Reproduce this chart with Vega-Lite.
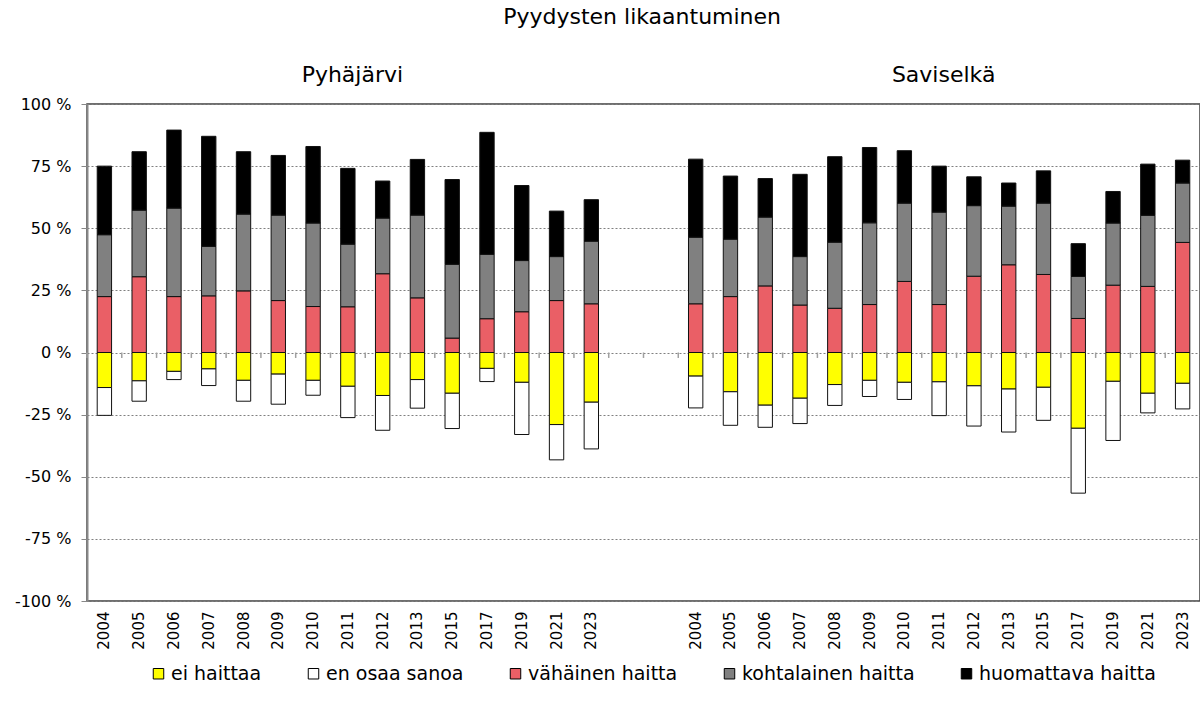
{
  "$schema": "https://vega.github.io/schema/vega-lite/v6.json",
  "width": 1113,
  "height": 497,
  "autosize": {"type": "none"},
  "padding": {"left": 87, "top": 104, "right": 0, "bottom": 114},
  "background": "white",
  "config": {
    "font": "DejaVu Sans",
    "view": {"stroke": "#404040", "strokeWidth": 1.5}
  },
  "layer": [
    {
      "data": {
        "values": [
          {"x": "P2004", "ei haittaa": -14.1, "en osaa sanoa": -11.2, "vähäinen haitta": 22.5, "kohtalainen haitta": 24.9, "huomattava haitta": 27.6},
          {"x": "P2005", "ei haittaa": -11.4, "en osaa sanoa": -8.2, "vähäinen haitta": 30.5, "kohtalainen haitta": 26.8, "huomattava haitta": 23.5},
          {"x": "P2006", "ei haittaa": -7.6, "en osaa sanoa": -3.3, "vähäinen haitta": 22.5, "kohtalainen haitta": 35.6, "huomattava haitta": 31.4},
          {"x": "P2007", "ei haittaa": -6.6, "en osaa sanoa": -6.7, "vähäinen haitta": 22.8, "kohtalainen haitta": 19.9, "huomattava haitta": 44.3},
          {"x": "P2008", "ei haittaa": -11.2, "en osaa sanoa": -8.4, "vähäinen haitta": 24.8, "kohtalainen haitta": 30.9, "huomattava haitta": 25.1},
          {"x": "P2009", "ei haittaa": -8.7, "en osaa sanoa": -12.1, "vähäinen haitta": 20.9, "kohtalainen haitta": 34.4, "huomattava haitta": 24.0},
          {"x": "P2010", "ei haittaa": -11.2, "en osaa sanoa": -6.0, "vähäinen haitta": 18.5, "kohtalainen haitta": 33.6, "huomattava haitta": 30.8},
          {"x": "P2011", "ei haittaa": -13.6, "en osaa sanoa": -12.6, "vähäinen haitta": 18.4, "kohtalainen haitta": 25.2, "huomattava haitta": 30.5},
          {"x": "P2012", "ei haittaa": -17.3, "en osaa sanoa": -14.0, "vähäinen haitta": 31.7, "kohtalainen haitta": 22.4, "huomattava haitta": 14.9},
          {"x": "P2013", "ei haittaa": -10.9, "en osaa sanoa": -11.5, "vähäinen haitta": 22.0, "kohtalainen haitta": 33.3, "huomattava haitta": 22.4},
          {"x": "P2015", "ei haittaa": -16.4, "en osaa sanoa": -14.2, "vähäinen haitta": 5.8, "kohtalainen haitta": 29.7, "huomattava haitta": 34.1},
          {"x": "P2017", "ei haittaa": -6.4, "en osaa sanoa": -5.3, "vähäinen haitta": 13.6, "kohtalainen haitta": 25.9, "huomattava haitta": 49.1},
          {"x": "P2019", "ei haittaa": -12.0, "en osaa sanoa": -21.0, "vähäinen haitta": 16.4, "kohtalainen haitta": 20.6, "huomattava haitta": 30.2},
          {"x": "P2021", "ei haittaa": -29.0, "en osaa sanoa": -14.2, "vähäinen haitta": 20.9, "kohtalainen haitta": 17.7, "huomattava haitta": 18.3},
          {"x": "P2023", "ei haittaa": -20.0, "en osaa sanoa": -18.8, "vähäinen haitta": 19.6, "kohtalainen haitta": 25.2, "huomattava haitta": 16.7},
          {"x": "S2004", "ei haittaa": -9.5, "en osaa sanoa": -12.8, "vähäinen haitta": 19.6, "kohtalainen haitta": 26.8, "huomattava haitta": 31.4},
          {"x": "S2005", "ei haittaa": -15.8, "en osaa sanoa": -13.5, "vähäinen haitta": 22.5, "kohtalainen haitta": 23.1, "huomattava haitta": 25.4},
          {"x": "S2006", "ei haittaa": -21.2, "en osaa sanoa": -8.9, "vähäinen haitta": 26.8, "kohtalainen haitta": 27.7, "huomattava haitta": 15.5},
          {"x": "S2007", "ei haittaa": -18.4, "en osaa sanoa": -10.2, "vähäinen haitta": 19.1, "kohtalainen haitta": 19.5, "huomattava haitta": 33.1},
          {"x": "S2008", "ei haittaa": -12.9, "en osaa sanoa": -8.4, "vähäinen haitta": 17.8, "kohtalainen haitta": 26.6, "huomattava haitta": 34.4},
          {"x": "S2009", "ei haittaa": -11.2, "en osaa sanoa": -6.5, "vähäinen haitta": 19.3, "kohtalainen haitta": 32.9, "huomattava haitta": 30.3},
          {"x": "S2010", "ei haittaa": -12.0, "en osaa sanoa": -6.9, "vähäinen haitta": 28.6, "kohtalainen haitta": 31.5, "huomattava haitta": 21.1},
          {"x": "S2011", "ei haittaa": -11.8, "en osaa sanoa": -13.6, "vähäinen haitta": 19.3, "kohtalainen haitta": 37.2, "huomattava haitta": 18.5},
          {"x": "S2012", "ei haittaa": -13.4, "en osaa sanoa": -16.2, "vähäinen haitta": 30.7, "kohtalainen haitta": 28.4, "huomattava haitta": 11.6},
          {"x": "S2013", "ei haittaa": -14.7, "en osaa sanoa": -17.3, "vähäinen haitta": 35.3, "kohtalainen haitta": 23.6, "huomattava haitta": 9.3},
          {"x": "S2015", "ei haittaa": -14.0, "en osaa sanoa": -13.3, "vähäinen haitta": 31.4, "kohtalainen haitta": 28.7, "huomattava haitta": 13.0},
          {"x": "S2017", "ei haittaa": -30.5, "en osaa sanoa": -26.1, "vähäinen haitta": 13.7, "kohtalainen haitta": 16.9, "huomattava haitta": 13.2},
          {"x": "S2019", "ei haittaa": -11.6, "en osaa sanoa": -23.8, "vähäinen haitta": 27.1, "kohtalainen haitta": 25.0, "huomattava haitta": 12.7},
          {"x": "S2021", "ei haittaa": -16.4, "en osaa sanoa": -7.9, "vähäinen haitta": 26.6, "kohtalainen haitta": 28.6, "huomattava haitta": 20.6},
          {"x": "S2023", "ei haittaa": -12.4, "en osaa sanoa": -10.3, "vähäinen haitta": 44.3, "kohtalainen haitta": 23.9, "huomattava haitta": 9.2}
        ]
      },
      "transform": [
        {"fold": ["ei haittaa", "en osaa sanoa", "vähäinen haitta", "kohtalainen haitta", "huomattava haitta"], "as": ["c", "v"]},
        {
          "lookup": "c",
          "from": {
            "data": {"values": [
              {"c": "ei haittaa", "o": 1},
              {"c": "en osaa sanoa", "o": 2},
              {"c": "vähäinen haitta", "o": 3},
              {"c": "kohtalainen haitta", "o": 4},
              {"c": "huomattava haitta", "o": 5}
            ]},
            "key": "c",
            "fields": ["o"]
          }
        }
      ],
      "mark": {"type": "bar", "stroke": "#111111", "strokeWidth": 1},
      "encoding": {
        "x": {
          "field": "x",
          "type": "nominal",
          "sort": null,
          "scale": {
            "domain": ["P2004", "P2005", "P2006", "P2007", "P2008", "P2009", "P2010", "P2011", "P2012", "P2013", "P2015", "P2017", "P2019", "P2021", "P2023", "g1", "g2", "S2004", "S2005", "S2006", "S2007", "S2008", "S2009", "S2010", "S2011", "S2012", "S2013", "S2015", "S2017", "S2019", "S2021", "S2023"],
            "paddingInner": 0.587,
            "paddingOuter": 0.2935
          },
          "axis": {
            "title": null,
            "orient": "bottom",
            "domain": false,
            "ticks": false,
            "labelAngle": -90,
            "labelPadding": 10,
            "labelFontSize": 15,
            "labelColor": "#000000",
            "labelOverlap": false,
            "labelExpr": "indexof(datum.value, 'g') == 0 ? '' : substring(datum.value, 1)"
          }
        },
        "y": {
          "field": "v",
          "type": "quantitative",
          "stack": "zero",
          "scale": {"domain": [-100, 100], "nice": false},
          "axis": {
            "title": null,
            "values": [-100, -75, -50, -25, 0, 25, 50, 75, 100],
            "labelExpr": "datum.value + ' %'",
            "labelFontSize": 16,
            "labelColor": "#000000",
            "labelPadding": 10,
            "domainColor": "#888888",
            "domainWidth": 2,
            "tickColor": "#888888",
            "tickSize": 6,
            "grid": true,
            "gridColor": "#808080",
            "gridDash": [2, 2],
            "gridWidth": 1
          }
        },
        "order": {"field": "o", "type": "quantitative", "sort": "ascending"},
        "color": {
          "field": "c",
          "type": "nominal",
          "sort": ["ei haittaa", "en osaa sanoa", "vähäinen haitta", "kohtalainen haitta", "huomattava haitta"],
          "scale": {
            "domain": ["ei haittaa", "en osaa sanoa", "vähäinen haitta", "kohtalainen haitta", "huomattava haitta"],
            "range": ["#FFFF00", "#FFFFFF", "#EA5F66", "#808080", "#000000"]
          },
          "legend": {
            "title": null,
            "orient": "none",
            "direction": "horizontal",
            "legendX": 62,
            "legendY": 560,
            "padding": 0,
            "symbolType": "square",
            "symbolSize": 110,
            "symbolStrokeColor": "#000000",
            "symbolStrokeWidth": 1,
            "labelFontSize": 19,
            "labelColor": "#000000",
            "labelOffset": 3,
            "labelLimit": 400,
            "columnPadding": 42
          }
        }
      }
    },
    {
      "data": {"values": [
        {"x": "P2004"}, {"x": "P2005"}, {"x": "P2006"}, {"x": "P2007"}, {"x": "P2008"}, {"x": "P2009"}, {"x": "P2010"}, {"x": "P2011"},
        {"x": "P2012"}, {"x": "P2013"}, {"x": "P2015"}, {"x": "P2017"}, {"x": "P2019"}, {"x": "P2021"}, {"x": "P2023"}, {"x": "g1"},
        {"x": "g2"}, {"x": "S2004"}, {"x": "S2005"}, {"x": "S2006"}, {"x": "S2007"}, {"x": "S2008"}, {"x": "S2009"}, {"x": "S2010"},
        {"x": "S2011"}, {"x": "S2012"}, {"x": "S2013"}, {"x": "S2015"}, {"x": "S2017"}, {"x": "S2019"}, {"x": "S2021"}, {"x": "S2023"}
      ]},
      "mark": {"type": "rule", "color": "#a0a0a0", "strokeWidth": 1.5},
      "encoding": {
        "x": {"field": "x", "type": "nominal", "bandPosition": -0.7107},
        "y": {"datum": 0},
        "y2": {"datum": -2.2}
      }
    },
    {
      "mark": {"type": "rule", "color": "#a0a0a0", "strokeWidth": 2},
      "encoding": {"y": {"datum": 0}}
    },
    {
      "data": {"values": [{"x": "P2011", "t": "Pyhäjärvi"}, {"x": "S2011", "t": "Saviselkä"}]},
      "mark": {"type": "text", "fontSize": 22, "baseline": "alphabetic", "align": "center", "dx": 4.5, "color": "#000000"},
      "encoding": {
        "x": {"field": "x", "type": "nominal"},
        "y": {"datum": 109},
        "text": {"field": "t"}
      }
    },
    {
      "data": {"values": [{"x": "g1", "t": "Pyydysten likaantuminen"}]},
      "mark": {"type": "text", "fontSize": 22, "baseline": "alphabetic", "align": "center", "dx": 16, "color": "#000000"},
      "encoding": {
        "x": {"field": "x", "type": "nominal"},
        "y": {"datum": 132},
        "text": {"field": "t"}
      }
    }
  ]
}
